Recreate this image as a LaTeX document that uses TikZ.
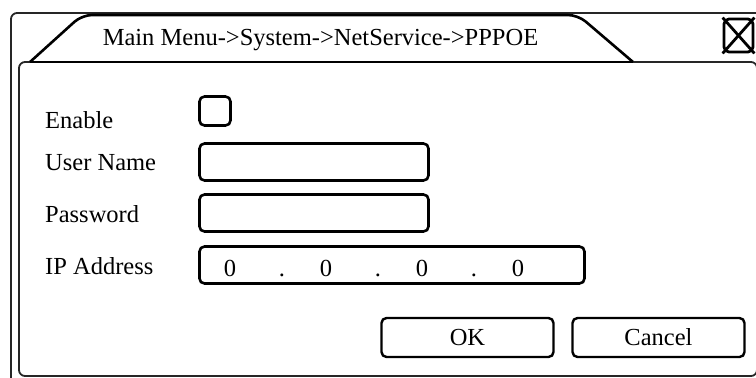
\documentclass[tikz,border=0pt]{standalone}
\usepackage{fontspec}
\setmainfont{Liberation Serif}
\usetikzlibrary{calc}

\begin{document}
\begin{tikzpicture}[x=1pt,y=-1pt,
    font=\fontsize{24.5pt}{29pt}\selectfont,
    entrybox/.style={shape=rectangle,draw=black,line width=2.6pt,rounded corners=5pt,inner sep=0pt},
    btn/.style={entrybox,line width=2.4pt,minimum width=172pt,minimum height=39pt},
    fieldname/.style={anchor=base west,inner sep=0pt},
    frameline/.style={draw=black!85,line width=1.8pt,rounded corners=6pt}]
\useasboundingbox (0,0) rectangle (756,378);
% window frame and tab
\path[frameline] (11,380) -- (11,13) -- (760,13);
\path[frameline] (19,62) rectangle (757,376);
\path[draw=black,line width=2.6pt,rounded corners=10pt] (30,62) -- (82,15) -- (578,15) -- (633,62);
\path[draw=black,line width=2.6pt] (30,62) -- (633,62);
\node[anchor=base,inner sep=0pt] (title) at (320.5,45) {Main Menu->System->NetService->PPPOE};
\node[entrybox,line width=2.8pt,minimum width=29pt,minimum height=33pt] (close) at (738.5,35.5) {};
\path[draw=black,line width=2.8pt] (close.north west) -- (close.south east);
\path[draw=black,line width=2.8pt] (close.north east) -- (close.south west);
% fields
\node[fieldname] (enable) at (45,128) {Enable};
\node[fieldname] (user) at (45,170) {User Name};
\node[fieldname] (pass) at (45,222) {Password};
\node[fieldname] (ip) at (45,274) {IP Address};
\node[entrybox,minimum width=31pt,minimum height=29pt] (enablebox) at (215,111) {};
\node[entrybox,minimum width=229pt,minimum height=37pt] (userbox) at (314,162) {};
\node[entrybox,minimum width=229pt,minimum height=37pt] (passbox) at (314,213) {};
\node[entrybox,minimum width=385pt,minimum height=37pt] (ipbox) at (392,265) {};
\foreach \i in {0,...,3}
  \node[anchor=base,inner sep=0pt] (ip\i) at (230+96*\i,276) {0};
\foreach \i in {1,2,3}
  \node[anchor=base,inner sep=0pt] (dot\i) at (186+96*\i,276) {.};
% buttons
\node[btn] (ok) at (467.5,337.5) {OK};
\node[btn] (cancel) at (658.5,337.5) {Cancel};
\end{tikzpicture}
\end{document}
